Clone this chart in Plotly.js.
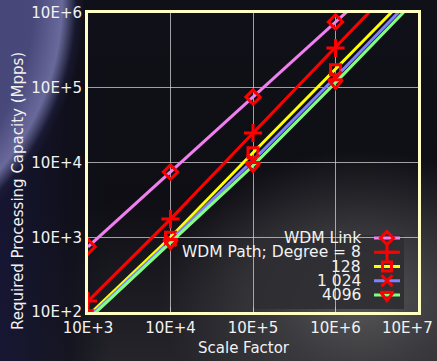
<!DOCTYPE html>
<html><head><meta charset="utf-8">
<script src="https://cdn.plot.ly/plotly-3.0.1.min.js"></script>
<style>
html,body{margin:0;padding:0;width:437px;height:361px;overflow:hidden;}
body{
background:
 radial-gradient(ellipse 200px 150px at 360px 300px, rgba(86,86,88,1) 0%, rgba(62,62,66,0.85) 45%, rgba(30,30,34,0) 100%),
 radial-gradient(circle 285px at -200px 0px, rgba(60,60,110,1) 0%, rgba(72,72,122,1) 82%, rgba(105,105,155,1) 92%, rgba(30,30,60,0.6) 97%, rgba(20,20,40,0) 100%),
 linear-gradient(90deg, rgba(22,22,52,0.95) 0px, rgba(16,16,30,0.7) 70px, rgba(0,0,0,0) 110px),
 linear-gradient(180deg, #101018 0%, #0e0e14 55%, #24242a 100%);
}
#chart{width:437px;height:361px;}
</style></head><body><div id="chart"></div>
<script>
// ---- data ----
const scaleFactor = [1e3, 1e4, 1e5, 1e6, 1e7];
const seriesNames = ["WDM Link", "WDM Path; Degree = 8", "128", "1 024", "4096"];
const wdmLink   = [745, 7450, 75000, 760000, 7600000];
const wdmPath8  = [140, 1750, 24800, 340000, 4900000];
const degree128 = [89, 1000, 13500, 174000, 2340000];
const degree1024= [83, 910, 10700, 138000, 1900000];
const degree4096= [79, 850, 9100, 117000, 1620000];
const xTickVals = [1e3, 1e4, 1e5, 1e6, 1e7];
const xTickText = ["10E+3", "10E+4", "10E+5", "10E+6", "10E+7"];
const yTickVals = [1e2, 1e3, 1e4, 1e5, 1e6];
const yTickText = ["10E+2", "10E+3", "10E+4", "10E+5", "10E+6"];
const xTitle = "Scale Factor";
const yTitle = "Required Processing Capacity (Mpps)";

// ---- styles ----
const seriesData = [wdmLink, wdmPath8, degree128, degree1024, degree4096];
const lineColors = ["#f080f0", "#ff0000", "#ffff00", "#8080ff", "#80ff80"];
const symbols = ["diamond-open", "cross-thin-open", "square-open", "x-thin-open", "triangle-down-open"];
const msizes = [11, 13, 10, 12, 12];
const FONT = "DejaVu Sans, sans-serif";
const TXT = "#f2f2f2";

const traces = [];
seriesData.forEach((ys, i) => {
  traces.push({
    x: scaleFactor, y: ys, type: "scatter", mode: "lines+markers",
    name: seriesNames[i], showlegend: false,
    line: {color: lineColors[i], width: 3},
    marker: {symbol: symbols[i], size: msizes[i], color: "#ff0000",
             line: {color: "#ff0000", width: 3}},
    cliponaxis: true, hoverinfo: "skip"
  });
});

// custom legend (text to the left of the symbol): symbols on overlay axes
const annotations = [];
const PW = 330, PH = 299;           // plot area size in px
const rowTop = 74, rowStep = 14.25; // legend rows, px above plot bottom
const legSymX0 = 286, legSymX1 = 312, legTextX = 275;
seriesNames.forEach((nm, i) => {
  const yy = rowTop - i * rowStep;
  traces.push({
    x: [legSymX0, (legSymX0 + legSymX1) / 2, legSymX1], y: [yy, yy, yy],
    xaxis: "x2", yaxis: "y2", type: "scatter", mode: "lines+markers",
    showlegend: false, hoverinfo: "skip",
    line: {color: lineColors[i], width: 3},
    marker: {symbol: symbols[i], size: msizes[i] - 1, color: "#ff0000", opacity: [0, 1, 0],
             line: {color: "#ff0000", width: 3}}
  });
  annotations.push({
    xref: "paper", yref: "paper", x: legTextX / PW, y: yy / PH,
    xanchor: "right", yanchor: "middle", showarrow: false, text: nm,
    font: {family: FONT, size: 15.5, color: TXT}
  });
});
// last x tick label sits against the right edge of the picture, as in the reference
const lastTick = xTickText[xTickText.length - 1];
const shownTickText = xTickText.slice(0, -1).concat([""]);
annotations.push({
  xref: "paper", yref: "paper", x: (435 - 88) / PW, y: (312 - 328) / PH,
  xanchor: "right", yanchor: "middle", showarrow: false, text: lastTick,
  font: {family: FONT, size: 15, color: TXT}
});
annotations.push({
  xref: "paper", yref: "paper", x: (244 - 88) / PW, y: (312 - 348) / PH,
  xanchor: "center", yanchor: "middle", showarrow: false, text: xTitle,
  font: {family: FONT, size: 15, color: TXT}
});
annotations.push({
  xref: "paper", yref: "paper", x: (18 - 88) / PW, y: (312 - 191) / PH,
  xanchor: "center", yanchor: "middle", showarrow: false, text: yTitle, textangle: -90,
  font: {family: FONT, size: 15, color: TXT}
});

const layout = {
  width: 437, height: 361,
  margin: {l: 88, r: 19, t: 13, b: 49},
  paper_bgcolor: "rgba(0,0,0,0)", plot_bgcolor: "rgba(0,0,0,0)",
  showlegend: false,
  xaxis: {
    type: "log", range: [3, 7], tickvals: xTickVals, ticktext: shownTickText,
    tickfont: {family: FONT, size: 15, color: TXT}, ticklabeloverflow: "allow",
    showgrid: true, gridcolor: "rgba(210,210,210,0.75)", gridwidth: 1,
    showline: true, linecolor: "#ffffc4", linewidth: 3, mirror: true,
    ticks: "inside", ticklen: 5, tickcolor: "rgba(200,200,200,0.8)", automargin: false
  },
  yaxis: {
    type: "log", range: [2, 6], tickvals: yTickVals, ticktext: yTickText,
    tickfont: {family: FONT, size: 15, color: TXT}, ticklabeloverflow: "allow",
    showgrid: true, gridcolor: "rgba(210,210,210,0.75)", gridwidth: 1,
    showline: true, linecolor: "#ffffc4", linewidth: 3, mirror: true,
    ticks: "", automargin: false
  },
  xaxis2: {overlaying: "x", range: [0, PW], visible: false, fixedrange: true},
  yaxis2: {overlaying: "y", range: [0, PH], visible: false, fixedrange: true},
  shapes: [{
    type: "rect", xref: "paper", yref: "paper", layer: "between",
    x0: 164 / PW, x1: 316 / PW, y0: 3 / PH, y1: 77 / PH,
    fillcolor: "rgba(46,46,50,0.9)", line: {width: 0}
  }],
  annotations: annotations
};

Plotly.newPlot("chart", traces, layout, {staticPlot: true, displayModeBar: false});
</script></body></html>
